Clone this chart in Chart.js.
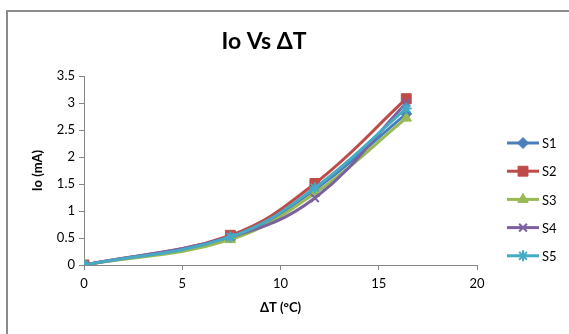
<!DOCTYPE html>
<html>
<head>
<meta charset="utf-8">
<script src="https://cdn.jsdelivr.net/npm/chart.js@4/dist/chart.umd.min.js"></script>
<style>
  html, body { margin: 0; padding: 0; background: #fff; overflow: hidden; }
  #wrap { width: 569px; height: 334px; }
</style>
</head>
<body>
<div id="wrap"><canvas id="ioChart"></canvas></div>
<script>
// temperature difference (°C) and output current (mA) per sample
var deltaT = [0, 7.45, 11.75, 16.4];
var s1 = [0, 0.51, 1.40, 2.80];
var s2 = [0, 0.55, 1.51, 3.08];
var s3 = [0, 0.47, 1.33, 2.72];
var s4 = [0, 0.52, 1.24, 3.00];
var s5 = [0, 0.52, 1.43, 2.90];
var seriesNames = ['S1', 'S2', 'S3', 'S4', 'S5'];
var chartTitle = 'Io Vs ΔT';

var FONT = "Lato, 'Open Sans', sans-serif";
var AXIS_GRAY = '#868686';

var seriesStyle = [
    { color: '#4A7EBB', pointStyle: 'rectRot', radius: 5.5 },
    { color: '#BE4B48', pointStyle: 'rect', radius: 7 },
    { color: '#98B954', pointStyle: 'triangle', radius: 6 },
    { color: '#7D60A0', pointStyle: 'crossRot', radius: 5.5 },
    { color: '#46AAC5', pointStyle: 'star', radius: 5.5 }
];

function toPoints(values) {
    return values.map(function (v, i) { return { x: deltaT[i], y: v }; });
}

var datasets = [s1, s2, s3, s4, s5].map(function (values, i) {
    var st = seriesStyle[i];
    return {
        label: seriesNames[i],
        data: toPoints(values),
        showLine: true,
        tension: 0.4,
        borderColor: st.color,
        backgroundColor: st.color,
        borderWidth: 3,
        pointStyle: st.pointStyle,
        pointRadius: st.radius,
        pointBorderWidth: st.pointStyle.indexOf('cross') === 0 || st.pointStyle === 'star' ? 2 : 1,
        pointBackgroundColor: st.color,
        pointBorderColor: st.color,
        order: 4 - i
    };
});

// outer frame of the chart object and the title
var framePlugin = {
    id: 'frame',
    beforeDraw: function (chart) {
        var ctx = chart.ctx;
        ctx.save();
        ctx.strokeStyle = '#8c8c8c';
        ctx.lineWidth = 2;
        ctx.strokeRect(7, 11, 600, 400);
        ctx.fillStyle = '#000';
        ctx.font = 'bold 23px ' + FONT;
        ctx.textAlign = 'center';
        ctx.textBaseline = 'middle';
        ctx.fillText(chartTitle, 264, 42);
        ctx.restore();
    }
};

// legend drawn as line + marker, like the spreadsheet one
var lineLegend = {
    id: 'lineLegend',
    afterDraw: function (chart) {
        var ctx = chart.ctx;
        ctx.save();
        chart.data.datasets.forEach(function (ds, i) {
            var y = 143 + i * 28.2;
            ctx.strokeStyle = ds.borderColor;
            ctx.lineWidth = 3;
            ctx.beginPath();
            ctx.moveTo(507, y);
            ctx.lineTo(539, y);
            ctx.stroke();
            ctx.fillStyle = ds.pointBackgroundColor;
            ctx.strokeStyle = ds.pointBorderColor;
            ctx.lineWidth = ds.pointBorderWidth;
            Chart.helpers.drawPoint(ctx, {
                pointStyle: ds.pointStyle,
                radius: ds.pointRadius,
                rotation: 0,
                borderWidth: ds.pointBorderWidth
            }, 523, y);
            ctx.fillStyle = '#000';
            ctx.font = '13px ' + FONT;
            ctx.textAlign = 'left';
            ctx.textBaseline = 'middle';
            ctx.fillText(ds.label, 542, y + 1);
        });
        ctx.restore();
    }
};

function plainNumber(value) {
    return String(Math.round(value * 10) / 10);
}

new Chart(document.getElementById('ioChart'), {
    type: 'scatter',
    data: { datasets: datasets },
    options: {
        responsive: true,
        maintainAspectRatio: false,
        animation: false,
        layout: { padding: { left: 7, right: 92, top: 76, bottom: 0 } },
        plugins: {
            legend: { display: false },
            tooltip: { enabled: false },
            title: { display: false }
        },
        scales: {
            x: {
                type: 'linear',
                min: 0,
                max: 20,
                ticks: { stepSize: 5, color: '#000', font: { family: FONT, size: 13 }, padding: 6, maxRotation: 0, callback: plainNumber },
                grid: { drawOnChartArea: false, drawTicks: true, tickLength: 5, color: AXIS_GRAY },
                border: { display: true, color: AXIS_GRAY, width: 1 },
                title: {
                    display: true,
                    text: 'ΔT (°C)',
                    color: '#000',
                    font: { family: FONT, size: 13, weight: 'bold', lineHeight: 1.2 },
                    padding: { top: 0, bottom: 18 }
                },
                afterFit: function (scale) { scale.height = 69; }
            },
            y: {
                type: 'linear',
                min: 0,
                max: 3.5,
                ticks: { stepSize: 0.5, color: '#000', font: { family: FONT, size: 13 }, padding: 4, callback: plainNumber },
                grid: { drawOnChartArea: false, drawTicks: true, tickLength: 5, color: AXIS_GRAY },
                border: { display: true, color: AXIS_GRAY, width: 1 },
                title: {
                    display: true,
                    text: 'Io (mA)',
                    color: '#000',
                    font: { family: FONT, size: 13, weight: 'bold', lineHeight: 1.2 },
                    padding: { top: 23, bottom: 0 }
                },
                afterFit: function (scale) { scale.width = 77; }
            }
        }
    },
    plugins: [framePlugin, lineLegend]
});
</script>
</body>
</html>
